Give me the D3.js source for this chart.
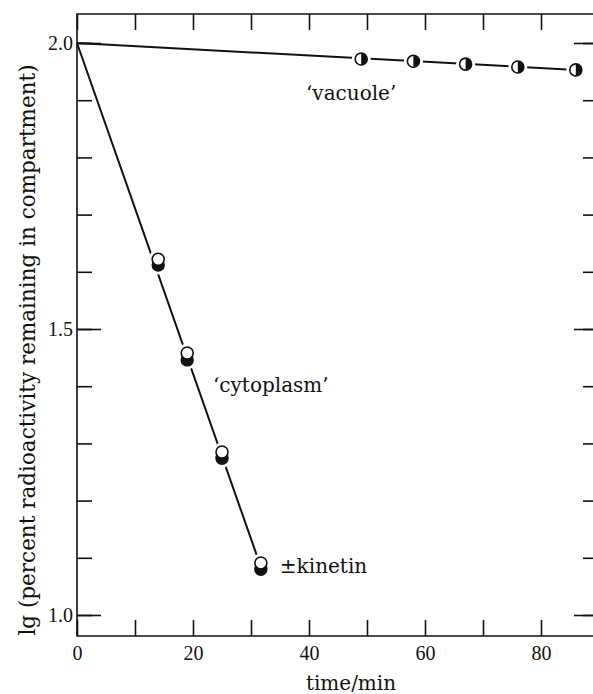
<!DOCTYPE html>
<html>
<head>
<meta charset="utf-8">
<script src="https://cdn.jsdelivr.net/npm/d3@7"></script>
<style>
  body { margin: 0; background: #fff; }
  svg text { font-family: "DejaVu Serif", serif; fill: #111; }
  .tick text { font-family: "Liberation Serif", serif; }
</style>
</head>
<body>
<svg id="chart" width="593" height="694"></svg>
<script>
// values
const vacTime = [49, 58, 67, 76, 86]
const vacLg = [1.972, 1.968, 1.963, 1.958, 1.953]
const cytoTime = [14, 19, 25, 31.7]
const cytoOpen = [1.622, 1.458, 1.285, 1.091]
const cytoFilled = [1.612, 1.446, 1.274, 1.080]
// fitted lines, both start at lg 100 = 2.0
const vacFit = [[0, 2.0], [86, 1.953]]
const cytoFit = [[0, 2.0], [31.7, 1.084]]
const xTicks = [0, 20, 40, 60, 80]
const yTicks = [1.0, 1.5, 2.0]

const svg = d3.select('#chart')
const pL = 77, pR = 599, pT = 14, pB = 636

const x = d3.scaleLinear().domain([0, 90]).range([pL, pR])
const y = d3.scaleLinear().domain([1, 2]).range([615, 43])

const minorX = d3.range(0, 91, 10)
const minorY = d3.range(1.0, 2.001, 0.1).map(v => +v.toFixed(1))

// frame
svg.append('path')
    .attr('d', `M${pL},${pT}H${pR}V${pB}H${pL}Z`)
    .attr('fill', 'none').attr('stroke', '#111').attr('stroke-width', 1.6)

const fmt = d => d3.format('.1f')(d)

function axisG(gen, tx, ty) {
  const g = svg.append('g').attr('transform', `translate(${tx},${ty})`).call(gen)
  g.select('.domain').remove()
  g.selectAll('line').attr('stroke', '#111').attr('stroke-width', 1.6)
  return g
}

// left: minor + major ticks inward
axisG(d3.axisLeft(y).tickValues(minorY).tickSize(-15).tickFormat(''), pL, 0)
const yl = axisG(d3.axisLeft(y).tickValues(yTicks).tickSize(-24).tickFormat(fmt), pL, 0)
yl.selectAll('text').attr('x', -4).attr('font-size', 20).attr('text-anchor', 'end')

// right
axisG(d3.axisRight(y).tickValues(minorY).tickSize(-16).tickFormat(''), pR, 0)
axisG(d3.axisRight(y).tickValues(yTicks).tickSize(-25).tickFormat(''), pR, 0)

// top
axisG(d3.axisTop(x).tickValues(minorX).tickSize(-16).tickFormat(''), 0, pT)

// bottom
axisG(d3.axisBottom(x).tickValues(minorX).tickSize(-16).tickFormat(''), 0, pB)
const xl = axisG(d3.axisBottom(x).tickValues(xTicks).tickSize(0).tickFormat(d3.format('d')), 0, pB)
xl.selectAll('text').attr('y', 10).attr('dy', '0.71em').attr('font-size', 20)

// fitted lines
const line = d3.line().x(d => x(d[0])).y(d => y(d[1]))
svg.append('path').attr('d', line(vacFit))
    .attr('fill', 'none').attr('stroke', '#111').attr('stroke-width', 2)
svg.append('path').attr('d', line(cytoFit))
    .attr('fill', 'none').attr('stroke', '#111').attr('stroke-width', 2)

const r = 6

// vacuole points: half-filled circles
const vac = vacTime.map((t, i) => [t, vacLg[i]])
svg.append('g').selectAll('circle').data(vac).join('circle')
    .attr('cx', d => x(d[0])).attr('cy', d => y(d[1])).attr('r', r + 3.5).attr('fill', '#fff')
const vg = svg.append('g').selectAll('g').data(vac).join('g')
    .attr('transform', d => `translate(${x(d[0])},${y(d[1])})`)
vg.append('circle').attr('r', r).attr('fill', '#fff').attr('stroke', '#111').attr('stroke-width', 1.6)
vg.append('path').attr('d', `M0,${-r}A${r},${r} 0 0 1 0,${r}Z`).attr('fill', '#111')

// cytoplasm points: filled (below) and open (above)
const cyto = cytoTime.map((t, i) => ({t, o: cytoOpen[i], f: cytoFilled[i]}))
svg.append('g').selectAll('circle').data(cyto).join('circle')
    .attr('cx', d => x(d.t)).attr('cy', d => y(d.f)).attr('r', r + 3.5).attr('fill', '#fff')
svg.append('g').selectAll('circle').data(cyto).join('circle')
    .attr('cx', d => x(d.t)).attr('cy', d => y(d.o)).attr('r', r + 3.5).attr('fill', '#fff')
svg.append('g').selectAll('circle').data(cyto).join('circle')
    .attr('cx', d => x(d.t)).attr('cy', d => y(d.f)).attr('r', r)
    .attr('fill', '#111').attr('stroke', '#111').attr('stroke-width', 1.4)
svg.append('g').selectAll('circle').data(cyto).join('circle')
    .attr('cx', d => x(d.t)).attr('cy', d => y(d.o)).attr('r', r)
    .attr('fill', '#fff').attr('stroke', '#111').attr('stroke-width', 1.6)

// labels
svg.append('text').attr('x', 306).attr('y', 100).attr('font-size', 20).text('\u2018vacuole\u2019')
svg.append('text').attr('x', 213).attr('y', 392).attr('font-size', 20).text('\u2018cytoplasm\u2019')
svg.append('text').attr('x', x(cytoTime[3]) + 19).attr('y', y(cytoFilled[3]) + 4).attr('font-size', 20).text('\u00b1kinetin')

svg.append('text').attr('x', 351).attr('y', 690).attr('font-size', 20)
    .attr('text-anchor', 'middle').text('time/min')
svg.append('text').attr('transform', 'translate(35,350) rotate(-90)').attr('font-size', 21.5)
    .attr('text-anchor', 'middle').text('lg (percent radioactivity remaining in compartment)')
</script>
</body>
</html>
